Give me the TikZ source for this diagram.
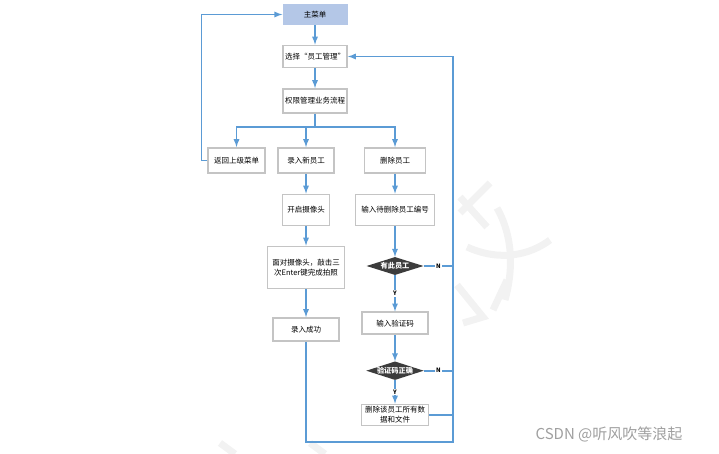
\documentclass[tikz,border=0pt]{standalone}
\usepackage{fontspec}
\setmainfont{Noto Sans CJK SC}
\usepackage{tikz}
\usetikzlibrary{shapes.geometric}
\definecolor{lineblue}{HTML}{5B9BD5}
\definecolor{menublue}{HTML}{B4C7E7}
\definecolor{boxgray}{HTML}{C4C4C4}
\definecolor{diadark}{HTML}{3C3C3C}

\begin{document}
\begin{tikzpicture}[x=1pt,y=-1pt,>=latex,
    box/.style={draw=boxgray,line width=1.8pt,fill=white,inner sep=1pt,align=center,
        font=\fontsize{7.5}{10}\selectfont},
    menubox/.style={fill=menublue,inner sep=1pt,font=\fontsize{7.5}{10}\selectfont},
    dia/.style={diamond,aspect=3.1,fill=diadark,inner sep=0pt,text=white,
        minimum width=57pt,minimum height=18pt,font=\fontsize{7.2}{9}\selectfont\bfseries},
    flow/.style={draw=lineblue,line width=1.7pt},
    yn/.style={fill=white,inner sep=1pt,font=\fontsize{6}{6}\selectfont\bfseries},
    wmstroke/.style={draw=gray!10,line width=7pt}]
    \useasboundingbox (0,0) rectangle (719,454);

    % watermark strokes
    \draw[wmstroke] (490,183)--(460,213);
    \draw[wmstroke] (460,197)--(487,227);
    \draw[wmstroke] (497,208) .. controls (515,240) and (512,275) .. (505,300);
    \draw[wmstroke] (467,247) .. controls (500,262) and (530,255) .. (550,240);
    \draw[wmstroke] (457,285)--(483,317)--(463,323);
    \draw[wmstroke] (507,280)--(493,310);
    \draw[wmstroke] (220,443)--(235,454);
    \draw[wmstroke] (310,443)--(325,454);

    % left column
    \node[menubox,minimum width=65pt,minimum height=21pt] (menu) at (315,14.5) {主菜单};
    \node[box,minimum width=64pt,minimum height=22pt] (select) at (315,56.5) {选择“员工管理”};
    \node[box,minimum width=64pt,minimum height=24pt] (perm) at (315,101) {权限管理业务流程};
    \node[box,minimum width=57pt,minimum height=25pt] (back) at (236.5,160.5) {返回上级菜单};
    \node[box,minimum width=56pt,minimum height=25pt] (newemp) at (306,160.5) {录入新员工};
    \node[box,minimum width=61pt,minimum height=25pt] (delemp) at (395,160.5) {删除员工};
    \node[box,minimum width=47pt,minimum height=31pt] (camera) at (306,210) {开启摄像头};
    \node[box,minimum width=77pt,minimum height=42pt] (shoot) at (306,267.5)
        {面对摄像头，敲击三\\次Enter键完成拍照};
    \node[box,minimum width=66pt,minimum height=23pt] (enrolled) at (306,329.5) {录入成功};

    % right column
    \node[box,minimum width=79pt,minimum height=31pt] (inputid) at (395,210) {输入待删除员工编号};
    \node[dia] (hasemp) at (395,266) {有此员工};
    \node[box,minimum width=66pt,minimum height=22pt] (code) at (395,323.3) {输入验证码};
    \node[dia] (codeok) at (395,370.7) {验证码正确};
    \node[box,minimum width=67pt,minimum height=21pt] (remove) at (395,415)
        {删除该员工所有数\\据和文件};

    \coordinate (split) at (315,127);
    \coordinate (rtop) at (453,56.5);
    \coordinate (rbot) at (453,442);

    \node[text=gray!75,font=\fontsize{15}{15}\selectfont] (sign) at (609,434.5) {CSDN @听风吹等浪起};

    % connectors
    \draw[flow,->] (menu)--(select);
    \draw[flow,->] (select)--(perm);
    \draw[flow] (perm)--(split);
    \draw[flow,->] (split)-|(back);
    \draw[flow,->] (split)-|(newemp);
    \draw[flow,->] (split)-|(delemp);
    \draw[flow,->] (back.west)--++(-5.5,0)|-(menu);
    \draw[flow,->] (newemp)--(camera);
    \draw[flow,->] (camera)--(shoot);
    \draw[flow,->] (shoot)--(enrolled);
    \draw[flow,->] (enrolled)|-(rbot)--(rtop)--(select);
    \draw[flow,->] (delemp)--(inputid);
    \draw[flow,->] (inputid)--(hasemp);
    \draw[flow,->] (hasemp)--node[yn]{Y}(code);
    \draw[flow] (hasemp)--node[yn]{N}(hasemp-|rbot);
    \draw[flow,->] (code)--(codeok);
    \draw[flow,->] (codeok)--node[yn]{Y}(remove);
    \draw[flow] (codeok)--node[yn]{N}(codeok-|rbot);
    \draw[flow] (remove)--(remove-|rbot);
\end{tikzpicture}
\end{document}
